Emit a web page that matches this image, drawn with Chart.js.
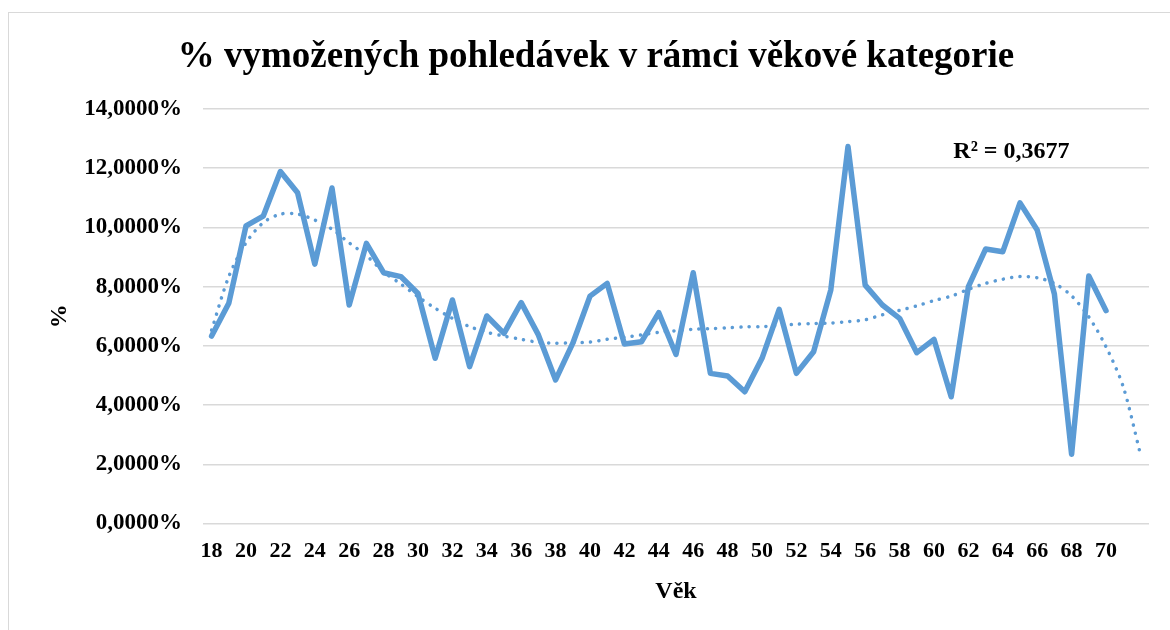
<!DOCTYPE html>
<html>
<head>
<meta charset="utf-8">
<script src="https://cdn.jsdelivr.net/npm/chart.js@4.4.1/dist/chart.umd.min.js"></script>
<style>
  html, body { margin: 0; padding: 0; background: #fff; overflow: hidden; }
  #wrap { position: relative; width: 1170px; height: 630px; }
  #frame { position: absolute; left: 8px; top: 12px; width: 1200px; height: 700px; border: 1px solid #d9d9d9; }
  canvas { position: absolute; left: 0; top: 0; }
</style>
</head>
<body>
<div id="wrap">
  <div id="frame"></div>
  <canvas id="chart" width="1170" height="630"></canvas>
</div>
<script>
// ages on the category axis (two extra slots are the trendline forecast)
const ages = [18, 19, 20, 21, 22, 23, 24, 25, 26, 27, 28, 29, 30, 31, 32, 33, 34, 35, 36, 37, 38, 39, 40, 41, 42, 43, 44,
  45, 46, 47, 48, 49, 50, 51, 52, 53, 54, 55, 56, 57, 58, 59, 60, 61, 62, 63, 64, 65, 66, 67, 68, 69, 70];
const forecastSlots = ['', ''];

// % vymožených pohledávek per age
const recovered = [6.33, 7.44, 10.05, 10.38, 11.89, 11.17, 8.76, 11.33, 7.38, 9.46, 8.47, 8.34, 7.77, 5.58, 7.55, 5.30, 7.01,
  6.42, 7.46, 6.37, 4.85, 6.09, 7.68, 8.11, 6.06, 6.14, 7.12, 5.71, 8.47, 5.07, 4.98, 4.45, 5.58, 7.23, 5.07, 5.80,
  7.89, 12.73, 8.05, 7.38, 6.93, 5.77, 6.22, 4.28, 8.00, 9.27, 9.18, 10.83, 9.91, 7.75, 2.34, 8.36, 7.19];

// polynomial trendline (18 .. 72)
const trend = [6.53, 8.34, 9.48, 10.16, 10.45, 10.45, 10.25, 9.94, 9.48, 9.05, 8.50, 8.09, 7.66, 7.27, 6.93, 6.65, 6.46,
  6.33, 6.22, 6.12, 6.09, 6.10, 6.13, 6.22, 6.29, 6.37, 6.46, 6.51, 6.56, 6.58, 6.61, 6.64, 6.65, 6.69, 6.73, 6.75,
  6.77, 6.82, 6.88, 7.05, 7.20, 7.35, 7.53, 7.68, 7.91, 8.11, 8.25, 8.34, 8.30, 8.11, 7.69, 6.98, 5.97, 4.62, 2.34];

const yTicks = [0, 2, 4, 6, 8, 10, 12, 14];
const chartTitle = '% vymožených pohledávek v rámci věkové kategorie';
const rSquared = 'R² = 0,3677';

const blue = '#5B9BD5';
const serif = "'Liberation Serif', 'Times New Roman', serif";

Chart.defaults.font.family = serif;
Chart.defaults.font.weight = 'bold';
Chart.defaults.color = '#000';

// title and R² text (Excel puts the title a bit right of the canvas centre)
const texts = {
  id: 'texts',
  afterDatasetsDraw(chart) {
    const { ctx, scales: { x, y } } = chart;
    ctx.save();
    ctx.fillStyle = '#000';
    ctx.textAlign = 'center';
    ctx.textBaseline = 'alphabetic';
    ctx.font = 'bold 37px ' + serif;
    ctx.fillText(chartTitle, 596, 67);
    ctx.textBaseline = 'middle';
    ctx.font = 'bold 24px ' + serif;
    // index 46.5 on the category axis = between ages 64 and 65
    ctx.fillText(rSquared, x.getPixelForValue(46.5), y.getPixelForValue(12.54));
    ctx.restore();
  }
};

new Chart(document.getElementById('chart'), {
  type: 'line',
  data: {
    labels: ages.concat(forecastSlots),
    datasets: [
      {
        label: '% vymožených',
        data: recovered,
        borderColor: blue,
        borderWidth: 5.5,
        borderJoinStyle: 'round',
        borderCapStyle: 'round',
        pointRadius: 0,
        tension: 0,
        order: 1
      },
      {
        label: 'Polyn.',
        data: trend,
        borderColor: blue,
        borderWidth: 3.5,
        borderDash: [0.1, 8.3],
        borderCapStyle: 'round',
        pointRadius: 0,
        tension: 0.3,
        order: 2
      }
    ]
  },
  options: {
    responsive: false,
    animation: false,
    layout: { padding: { left: 0, right: 21, top: 109, bottom: 0 } },
    plugins: {
      legend: { display: false },
      tooltip: { enabled: false },
      title: { display: false }
    },
    scales: {
      x: {
        offset: true,
        grid: { display: false, drawTicks: false },
        border: { display: false },
        ticks: {
          autoSkip: false,
          maxRotation: 0,
          padding: 15,
          font: { size: 22 },
          callback: function (val, i) {
            const lab = this.getLabelForValue(val);
            return i % 2 === 0 ? lab : '';
          }
        },
        title: {
          display: true,
          text: 'Věk',
          font: { size: 24 },
          padding: { top: 0, bottom: 24 }
        },
        afterFit(scale) { scale.height = 106.5; }
      },
      y: {
        min: 0,
        max: 14,
        afterBuildTicks(scale) { scale.ticks = yTicks.map(v => ({ value: v })); },
        grid: { color: '#d9d9d9', lineWidth: 1.5, drawTicks: false },
        border: { display: false },
        ticks: {
          padding: 21,
          font: { size: 23 },
          callback: v => v.toFixed(4).replace('.', ',') + '%'
        },
        title: {
          display: true,
          text: '%',
          font: { size: 24 },
          padding: { top: 45, bottom: 0 }
        },
        afterFit(scale) { scale.width = 203; }
      }
    }
  },
  plugins: [texts]
});
</script>
</body>
</html>
